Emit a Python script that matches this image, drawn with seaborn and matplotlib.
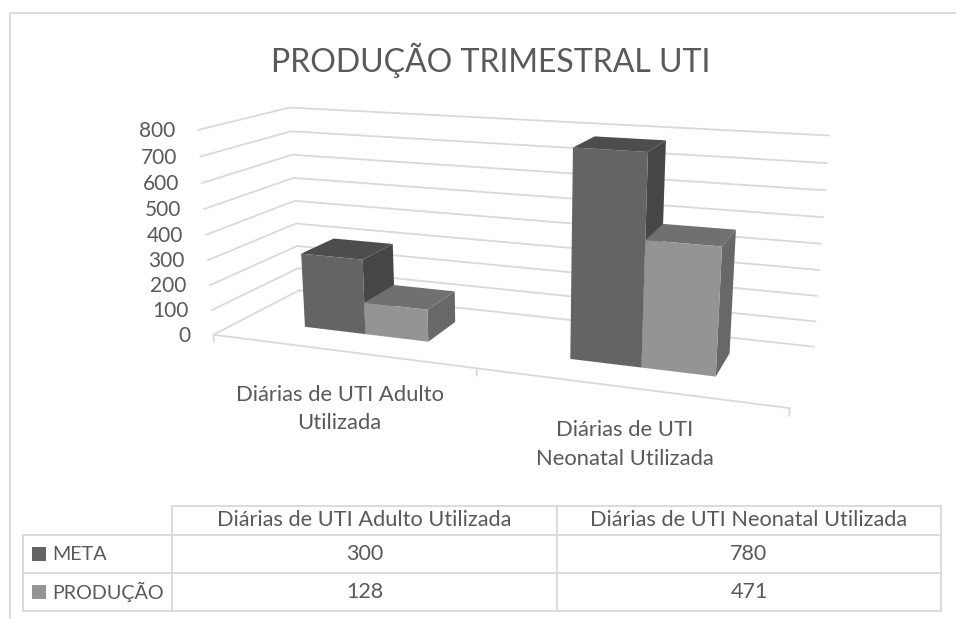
'''Producao trimestral UTI: barras 3D a partir de um barplot do seaborn'''

import matplotlib
matplotlib.use('Agg')
import matplotlib.pyplot as plt
from matplotlib.patches import Rectangle
from matplotlib.transforms import Transform
import numpy as np
import pandas as pd
import seaborn as sns

# Dados
categorias = ['Diárias de UTI Adulto Utilizada', 'Diárias de UTI Neonatal Utilizada']
series = ['META', 'PRODUÇÃO']
meta = [300, 780]
producao = [128, 471]
ticks_y = [0, 100, 200, 300, 400, 500, 600, 700, 800]
titulo = 'PRODUÇÃO TRIMESTRAL UTI'

W, H = 956, 619
TEXTO = '#595959'
GRADE = '#D9D9D9'
FRENTE = ['#646464', '#949494']
LADO = ['#464646', '#686868']
TOPO = ['#4d4d4d', '#707070']
D_FRENTE, D_FUNDO = 0.32, 0.72
VMAX = 800.0

# Cantos da caixa 3D (categoria, profundidade, valor) -> pixel da imagem
cantos = [
    ((-0.5, 0, 0), (214, 334)),
    ((0.5, 0, 0), (476, 369)),
    ((1.5, 0, 0), (790, 408)),
    ((-0.5, 1, 0), (299, 291)),
    ((1.5, 1, 0), (814, 346)),
    ((-0.5, 0, VMAX), (198, 130)),
    ((-0.5, 1, VMAX), (290, 107)),
    ((1.5, 1, VMAX), (829, 136)),
]


def ajusta_camera(pontos):
    """Resolve a matriz de projecao 3x4 pelos cantos conhecidos (DLT)."""
    linhas = []
    for (c, d, v), (x, y) in pontos:
        p = [c, d, v / VMAX, 1]
        linhas.append(p + [0, 0, 0, 0] + [-x * k for k in p])
        linhas.append([0, 0, 0, 0] + p + [-y * k for k in p])
    _, _, vt = np.linalg.svd(np.array(linhas, dtype=float))
    return vt[-1].reshape(3, 4)


CAMERA = ajusta_camera(cantos)


def projeta(c, d, v):
    c, d, v = np.broadcast_arrays(np.asarray(c, float), np.asarray(d, float), np.asarray(v, float))
    p = np.stack([c, d, v / VMAX, np.ones_like(c)], axis=-1) @ CAMERA.T
    return p[..., 0] / p[..., 2], p[..., 1] / p[..., 2]


class Parede(Transform):
    """Leva (categoria, valor) ao pixel, numa profundidade fixa."""
    input_dims = 2
    output_dims = 2
    is_affine = False

    def __init__(self, d):
        super().__init__()
        self.d = d

    def transform_non_affine(self, values):
        values = np.asarray(values, float)
        x, y = projeta(values[:, 0], self.d, values[:, 1])
        return np.column_stack([x, y])


sns.set_theme(style='white')
plt.rcParams['font.family'] = ['Lato', 'DejaVu Sans']

fig = plt.figure(figsize=(W / 100, H / 100), dpi=100)
ax = fig.add_axes([0, 0, 1, 1])
px = fig.add_axes([0, 0, 1, 1], zorder=5)
px.set_xlim(0, W)
px.set_ylim(H, 0)
px.axis('off')
px.patch.set_alpha(0)

df = pd.DataFrame({
    'categoria': categorias * 2,
    'serie': [series[0]] * 2 + [series[1]] * 2,
    'valor': meta + producao,
})
sns.barplot(data=df, x='categoria', y='valor', hue='serie', palette=FRENTE, saturation=1,
            width=0.485, linewidth=0, legend=False, ax=ax)

# Paredes: grade lateral e grade do fundo
for t in ticks_y:
    xs, ys = projeta([-0.5, -0.5, 1.5], [0, 1, 1], [t, t, t])
    ax.plot(xs, ys, color=GRADE, lw=1.3, transform=px.transData, zorder=1, clip_on=False)
    xt, yt = projeta(-0.5, 0, t)
    px.text(float(xt) - 23, float(yt) + 1, str(t), ha='right', va='center', fontsize=15, color=TEXTO)

# Eixo das categorias
xs, ys = projeta([-0.5, 1.5], [0, 0], [0, 0])
ax.plot(xs, ys, color=GRADE, lw=1.3, transform=px.transData, zorder=1)
for c in [-0.5, 0.5, 1.5]:
    xs, ys = projeta([c, c], [0, 0], [0, -28])
    ax.plot(xs, ys, color=GRADE, lw=1.3, transform=px.transData, zorder=1)

# Frente vem do seaborn; lado e topo saem da mesma barra
for s, cont in enumerate(ax.containers):
    for g, barra in enumerate(cont):
        c0, c1 = barra.get_x(), barra.get_x() + barra.get_width()
        h = barra.get_height()
        z = 10 + g * 10 + s * 3
        xs, ys = projeta([c1, c1, c1, c1], [D_FRENTE, D_FUNDO, D_FUNDO, D_FRENTE], [0, 0, h, h])
        ax.fill(xs, ys, color=LADO[s], lw=0, transform=px.transData, zorder=z)
        xs, ys = projeta([c0, c1, c1, c0], [D_FRENTE, D_FRENTE, D_FUNDO, D_FUNDO], [h, h, h, h])
        ax.fill(xs, ys, color=TOPO[s], lw=0, transform=px.transData, zorder=z + 1)
        barra.set_transform(Parede(D_FRENTE) + px.transData)
        barra.set_zorder(z + 2)

ax.axis('off')

# Titulo e rotulos de categoria
px.text(491, 60, titulo, ha='center', va='center', fontsize=23, color=TEXTO)
px.text(340, 395, 'Diárias de UTI Adulto', ha='center', va='center', fontsize=15.8, color=TEXTO)
px.text(339, 423, 'Utilizada', ha='center', va='center', fontsize=15.8, color=TEXTO)
px.text(625, 430, 'Diárias de UTI', ha='center', va='center', fontsize=15.8, color=TEXTO)
px.text(625, 459, 'Neonatal Utilizada', ha='center', va='center', fontsize=15.8, color=TEXTO)

# Moldura do grafico
px.plot([10, 10, W], [H, 13, 13], color=GRADE, lw=1.3, clip_on=False)

# Tabela de dados
col_x = [23, 172, 557, 941]
lin_y = [506, 535, 573, 611]
px.plot([col_x[1], col_x[3]], [lin_y[0], lin_y[0]], color=GRADE, lw=1.3)
for y in lin_y[1:]:
    px.plot([col_x[0], col_x[3]], [y, y], color=GRADE, lw=1.3)
px.plot([col_x[0], col_x[0]], [lin_y[1], lin_y[3]], color=GRADE, lw=1.3)
for x in col_x[1:]:
    px.plot([x, x], [lin_y[0], lin_y[3]], color=GRADE, lw=1.3)

for j, nome in enumerate(categorias):
    px.text((col_x[j + 1] + col_x[j + 2]) / 2, 520, nome, ha='center', va='center',
            fontsize=15.7, color=TEXTO)
for i, (nome, valores) in enumerate(zip(series, [meta, producao])):
    yc = (lin_y[i + 1] + lin_y[i + 2]) / 2
    px.add_patch(Rectangle((32, yc - 7), 14, 14, color=FRENTE[i], lw=0))
    px.text(52, yc, nome, ha='left', va='center', fontsize=14.2, color=TEXTO)
    for j, v in enumerate(valores):
        px.text((col_x[j + 1] + col_x[j + 2]) / 2, yc, str(v), ha='center', va='center',
                fontsize=15.5, color=TEXTO)

fig.savefig('out.png', dpi=100)
